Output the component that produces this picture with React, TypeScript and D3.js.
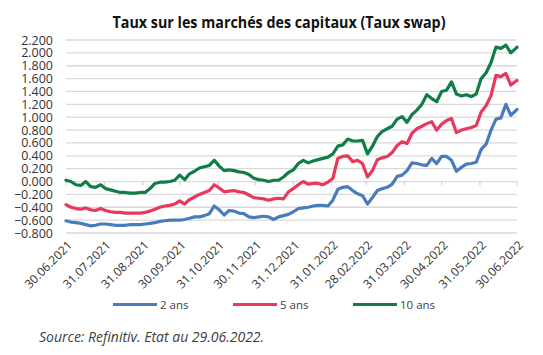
import React from "react";
import * as d3 from "d3";

const startDate = "2021-06-30";
const dayOffsets = [
  0, 4, 8, 12, 16, 20, 24, 28, 32, 36, 40, 44, 48, 52, 56, 60, 64, 68, 72, 76, 80, 84, 88, 92,
  96, 100, 104, 108, 112, 116, 120, 124, 128, 132, 136, 140, 144, 148, 152, 156, 160, 164, 168,
  172, 176, 180, 184, 188, 192, 196, 200, 204, 208, 212, 216, 220, 224, 228, 232, 236, 240, 244,
  248, 252, 256, 260, 264, 268, 272, 276, 280, 284, 288, 292, 296, 300, 304, 308, 312, 316, 320,
  324, 328, 332, 336, 340, 344, 348, 352, 356, 360, 364, 365,
];

const swap2 = [
  -0.61, -0.63, -0.64, -0.65, -0.67, -0.69, -0.68, -0.66, -0.66, -0.67, -0.68, -0.68, -0.68, -0.67,
  -0.67, -0.67, -0.66, -0.65, -0.64, -0.62, -0.61, -0.6, -0.6, -0.6, -0.59, -0.57, -0.55, -0.55,
  -0.53, -0.5, -0.38, -0.44, -0.52, -0.45, -0.46, -0.49, -0.5, -0.55, -0.56, -0.55, -0.54, -0.55,
  -0.59, -0.55, -0.53, -0.51, -0.47, -0.42, -0.41, -0.4, -0.38, -0.37, -0.37, -0.38, -0.29, -0.12,
  -0.09, -0.08, -0.14, -0.19, -0.22, -0.35, -0.25, -0.14, -0.11, -0.09, -0.04, 0.08, 0.1, 0.17,
  0.29, 0.28, 0.26, 0.25, 0.36, 0.28, 0.39, 0.39, 0.33, 0.16, 0.22, 0.27, 0.28, 0.3, 0.5, 0.58,
  0.8, 0.97, 0.99, 1.2, 1.03, 1.1, 1.12,
];

const swap5 = [
  -0.36, -0.4, -0.42, -0.43, -0.41, -0.44, -0.45, -0.42, -0.45, -0.47, -0.48, -0.48, -0.49, -0.49,
  -0.49, -0.49, -0.48, -0.46, -0.43, -0.4, -0.38, -0.37, -0.35, -0.3, -0.35, -0.28, -0.24, -0.2,
  -0.17, -0.14, -0.05, -0.1, -0.16, -0.15, -0.14, -0.16, -0.17, -0.21, -0.25, -0.26, -0.27, -0.29,
  -0.27, -0.26, -0.27, -0.16, -0.11, -0.05, 0.0, -0.04, -0.03, -0.03, -0.05, -0.01, 0.05, 0.36,
  0.39, 0.4, 0.31, 0.33, 0.28, 0.07, 0.17, 0.34, 0.37, 0.39, 0.45, 0.56, 0.62, 0.59, 0.75, 0.82,
  0.86, 0.9, 0.93, 0.8, 0.89, 0.95, 0.98, 0.76, 0.8, 0.82, 0.84, 0.87, 1.08, 1.18, 1.34, 1.65,
  1.63, 1.68, 1.5, 1.56, 1.57,
];

const swap10 = [
  0.02, 0.0, -0.05, -0.06, 0.0, -0.08, -0.09, -0.05, -0.11, -0.13, -0.15, -0.17, -0.17, -0.18,
  -0.18, -0.17, -0.17, -0.11, -0.03, -0.01, -0.01, 0.0, 0.02, 0.1, 0.03, 0.12, 0.16, 0.21, 0.23,
  0.25, 0.33, 0.24, 0.17, 0.18, 0.17, 0.15, 0.14, 0.11, 0.05, 0.03, 0.02, 0.0, 0.02, 0.02, 0.07,
  0.14, 0.18, 0.28, 0.33, 0.29, 0.32, 0.34, 0.36, 0.38, 0.43, 0.55, 0.57, 0.66, 0.63, 0.63, 0.64,
  0.43, 0.55, 0.7, 0.78, 0.82, 0.86, 0.97, 1.01, 0.92, 1.04, 1.11, 1.2, 1.35, 1.29, 1.24, 1.4,
  1.42, 1.55, 1.36, 1.33, 1.35, 1.32, 1.36, 1.6, 1.69, 1.85, 2.09, 2.07, 2.12, 2.0, 2.07, 2.09,
];

const xTickDates = [
  "2021-06-30", "2021-07-31", "2021-08-31", "2021-09-30", "2021-10-31", "2021-11-30",
  "2021-12-31", "2022-01-31", "2022-02-28", "2022-03-31", "2022-04-30", "2022-05-31", "2022-06-30",
];
const xTickLabels = [
  "30.06.2021", "31.07.2021", "31.08.2021", "30.09.2021", "31.10.2021", "30.11.2021",
  "31.12.2021", "31.01.2022", "28.02.2022", "31.03.2022", "30.04.2022", "31.05.2022", "30.06.2022",
];
const yTicks = [-0.8, -0.6, -0.4, -0.2, 0, 0.2, 0.4, 0.6, 0.8, 1.0, 1.2, 1.4, 1.6, 1.8, 2.0, 2.2];

const seriesNames = ["2 ans", "5 ans", "10 ans"];
const seriesColors = ["#4a7cbc", "#e8385c", "#0f7d45"];
const seriesValues = [swap2, swap5, swap10];

const title = "Taux sur les marchés des capitaux (Taux swap)";
const source = "Source: Refinitiv. Etat au 29.06.2022.";

export default function App() {
  const W = 543;
  const H = 355;
  const left = 66;
  const right = 517;
  const top = 40;
  const bottom = 233;
  const parse = d3.timeParse("%Y-%m-%d");
  const start = parse(startDate) as Date;
  const dates = dayOffsets.map((d) => d3.timeDay.offset(start, d));
  const x = d3
    .scaleTime()
    .domain([parse(xTickDates[0]) as Date, parse(xTickDates[xTickDates.length - 1]) as Date])
    .range([left, right]);
  const y = d3.scaleLinear().domain([-0.8, 2.2]).range([bottom, top]);
  const line = d3
    .line<number>()
    .x((_, i) => x(dates[i]))
    .y((v) => y(v))
    .curve(d3.curveLinear);
  const fmt = d3.format(".3f");
  const font = "'Open Sans', 'Noto Sans', sans-serif";
  const legendX = [113, 233, 353];

  return (
    <svg
      width={W}
      height={H}
      style={{ position: "absolute", left: 0, top: 0, background: "#fff" }}
      fontFamily={font}
    >
      <rect width={W} height={H} fill="#fff" />
      <text
        x={279}
        y={28}
        textAnchor="middle"
        fontSize={15.5}
        fontWeight="bold"
        fill="#111"
        textLength={333}
        lengthAdjust="spacingAndGlyphs"
      >
        {title}
      </text>
      {yTicks.map((t) => (
        <g key={t}>
          <line x1={left} x2={right} y1={y(t)} y2={y(t)} stroke="#d9d9d9" strokeWidth={1.3} />
          <text x={53} y={y(t)} dy="0.36em" textAnchor="end" fontSize={12.5} fill="#333">
            {fmt(t)}
          </text>
        </g>
      ))}
      {xTickDates.map((d, i) => {
        const xx = x(parse(d) as Date);
        return (
          <g key={d}>
            <line x1={xx} x2={xx} y1={y(0)} y2={y(0) + 4} stroke="#d0d0d0" strokeWidth={1.2} />
            <text
              transform={`translate(${xx + 4},${bottom + 10}) rotate(-45)`}
              textAnchor="end"
              fontSize={12}
              fill="#333"
              dy="0.35em"
            >
              {xTickLabels[i]}
            </text>
          </g>
        );
      })}
      {seriesValues.map((vals, i) => (
        <path
          key={seriesNames[i]}
          d={line(vals) || ""}
          fill="none"
          stroke={seriesColors[i]}
          strokeWidth={3.2}
          strokeLinejoin="round"
          strokeLinecap="round"
        />
      ))}
      {seriesNames.map((n, i) => (
        <g key={n}>
          <line
            x1={legendX[i]}
            x2={legendX[i] + 44}
            y1={304.5}
            y2={304.5}
            stroke={seriesColors[i]}
            strokeWidth={3}
          />
          <text x={legendX[i] + 47} y={304.5} dy="0.35em" fontSize={11.5} fill="#404040">
            {n}
          </text>
        </g>
      ))}
      <text x={39} y={342} fontSize={14} fontStyle="italic" fill="#404040">
        {source}
      </text>
    </svg>
  );
}
